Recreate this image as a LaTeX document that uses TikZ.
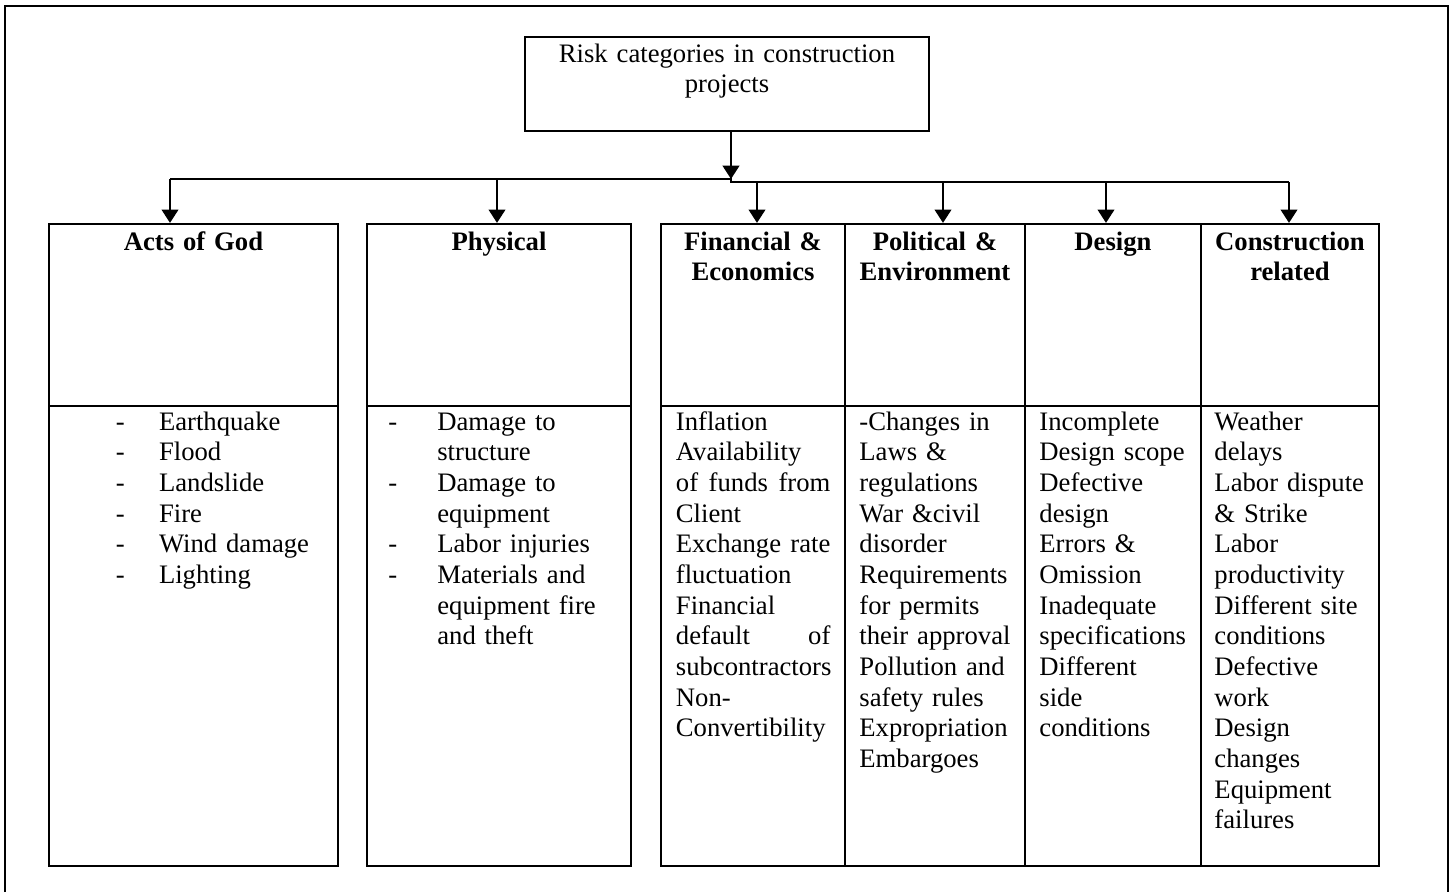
\documentclass[tikz,border=0pt]{standalone}
\usepackage{fontspec}
\setmainfont{Liberation Serif}
\usetikzlibrary{arrows.meta,fit}

\newcommand{\hy}[1]{\makebox[#1][l]{-}}

\begin{document}
\begin{tikzpicture}[x=0.45pt,y=-0.45pt,
  cell/.style={draw,line width=1pt,inner sep=0pt},
  arrow/.style={-{Triangle[length=6pt,width=7.5pt]},line width=0.9pt},
  head/.style={anchor=base,align=center,text width=85pt,inner sep=0pt,font=\bfseries\fontsize{12}{13.8}\selectfont},
  list/.style={anchor=base west,align=left,text width=110pt,inner sep=0pt,font=\fontsize{12}{13.8}\selectfont}]
\useasboundingbox (0,0) rectangle (1450,892);

% Frame
\draw[line width=1pt] (5,892) -- (5,6) -- (1448,6) -- (1448,892);

% Root box
\node[cell, fit={(525,37) (929,131)}] (risk) {};
\node[anchor=base,align=center,text width=180pt,inner sep=0pt,font=\fontsize{12}{13.8}\selectfont] (risktxt) at (727,62) {Risk categories in construction\\projects};

% Category cells
\node[cell, fit={(49,224) (338,406)}] (god) {};
\node[cell, fit={(49,406) (338,866)}] (godb) {};
\node[cell, fit={(367,224) (631,406)}] (phys) {};
\node[cell, fit={(367,406) (631,866)}] (physb) {};
\node[cell, fit={(661,224) (845,406)}] (fin) {};
\node[cell, fit={(661,406) (845,866)}] (finb) {};
\node[cell, fit={(845,224) (1025,406)}] (pol) {};
\node[cell, fit={(845,406) (1025,866)}] (polb) {};
\node[cell, fit={(1025,224) (1201,406)}] (des) {};
\node[cell, fit={(1025,406) (1201,866)}] (desb) {};
\node[cell, fit={(1201,224) (1379,406)}] (con) {};
\node[cell, fit={(1201,406) (1379,866)}] (conb) {};

% Headings
\node[head] (godh) at (193.5,250) {Acts of God};
\node[head] (physh) at (499,250) {Physical};
\node[head] (finh) at (753,250) {Financial \&\\Economics};
\node[head] (polh) at (935,250) {Political \&\\Environment};
\node[head] (desh) at (1113,250) {Design};
\node[head] (conh) at (1290,250) {Construction\\related};

% Connectors
\coordinate (split) at (731,179);
\coordinate (tgod) at (170,179);
\coordinate (tphys) at (497,179);
\coordinate (tfin) at (757,182);
\coordinate (tpol) at (943,182);
\coordinate (tdes) at (1106,182);
\coordinate (tcon) at (1289,182);

\draw[arrow] (risk.south -| split) -- (split);
\draw[line width=0.9pt] (tgod) -- (split) -- (split |- tcon) -- (tcon);
\foreach \n in {god,phys,fin,pol,des,con}
  \draw[arrow] (t\n) -- (\n.north -| t\n);

% Lists
\node[list] (godlist) at (115.5,430) {\hy{19.4pt}Earthquake\\ \hy{19.4pt}Flood\\ \hy{19.4pt}Landslide\\ \hy{19.4pt}Fire\\ \hy{19.4pt}Wind damage\\ \hy{19.4pt}Lighting};

\node[list] (physlist) at (388,430) {\hy{22pt}Damage to\\ \hspace*{22pt}structure\\ \hy{22pt}Damage to\\ \hspace*{22pt}equipment\\ \hy{22pt}Labor injuries\\ \hy{22pt}Materials and\\ \hspace*{22pt}equipment fire\\ \hspace*{22pt}and theft};

\node[list] (finlist) at (675.5,430) {Inflation\\ Availability\\ \makebox[69.5pt][l]{of\hfill funds\hfill from}\\ Client\\ \makebox[69.5pt][l]{Exchange\hfill rate}\\ fluctuation\\ Financial\\ \makebox[69.5pt][l]{default\hfill of}\\ subcontractors\\ Non-\\ Convertibility};

\node[list] (pollist) at (859,430) {-Changes in\\ Laws \&\\ regulations\\ War \&civil\\ disorder\\ Requirements\\ for permits\\ their approval\\ Pollution and\\ safety rules\\ Expropriation\\ Embargoes};

\node[list] (deslist) at (1039,430) {Incomplete\\ Design scope\\ Defective\\ design\\ Errors \&\\ Omission\\ Inadequate\\ specifications\\ Different\\ side\\ conditions};

\node[list] (conlist) at (1214,430) {Weather\\ delays\\ Labor dispute\\ \& Strike\\ Labor\\ productivity\\ Different site\\ conditions\\ Defective\\ work\\ Design\\ changes\\ Equipment\\ failures};

\end{tikzpicture}
\end{document}
